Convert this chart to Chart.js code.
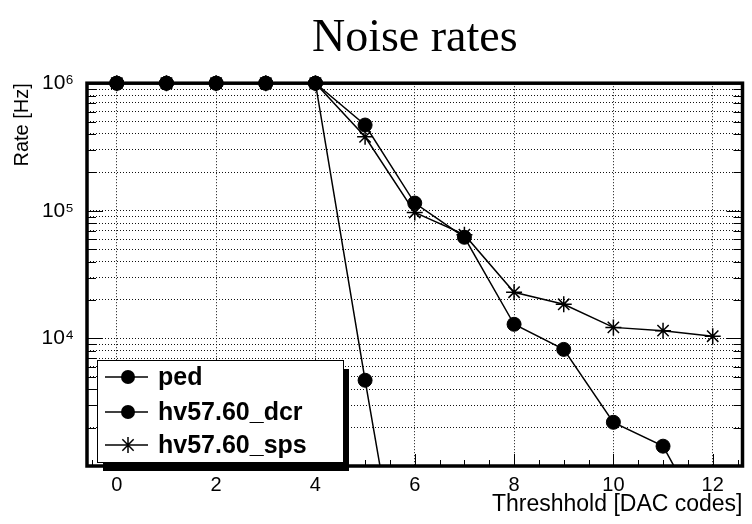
<!DOCTYPE html>
<html><head><meta charset="utf-8">
<script src="https://cdn.jsdelivr.net/npm/chart.js@4"></script>
<style>html,body{margin:0;padding:0;background:#fff;}#wrap{width:752px;height:524px;}</style>
</head><body><div id="wrap"><canvas id="c" width="752" height="524"></canvas></div>
<script>
const thresholds = [0,1,2,3,4,5,6,7,8,9,10,11,12];
const pedRates = [1e6,1e6,1e6,1e6,1e6,4.7e3,27];
const dcrRates = [1e6,1e6,1e6,1e6,1e6,4.7e5,1.15e5,6.2e4,1.29e4,8.2e3,2.2e3,1.43e3,280];
const spsRates = [1e6,1e6,1e6,1e6,1e6,3.8e5,9.7e4,6.5e4,2.3e4,1.85e4,1.22e4,1.15e4,1.04e4];
const seriesNames = ['ped','hv57.60_dcr','hv57.60_sps'];
const xTickValues = [0,2,4,6,8,10,12];
const yDecadeLabels = {4:'10\u2074',5:'10\u2075',6:'10\u2076'};
const yMin = 1e3, yMax = 1e6;
const xMin = -0.6, xMax = 12.6;

function pts(arr){ return arr.map((y,i)=>({x:thresholds[i],y:y})); }

const FONT = "'Liberation Sans', Arial, Helvetica, sans-serif";

function logTicks(){
  const t=[];
  for(let e=3;e<6;e++){ for(let m=1;m<=9;m++){ t.push({value:m*Math.pow(10,e)}); } }
  t.push({value:1e6});
  return t;
}

const framePlugin = {
  id:'frame',
  afterDatasetsDraw(chart){
    const ctx=chart.ctx, a=chart.chartArea, xs=chart.scales.x, ys=chart.scales.y;
    ctx.save();
    ctx.strokeStyle='#000';
    ctx.lineWidth=1;
    ys.ticks.forEach(t=>{
      const y=Math.round(ys.getPixelForValue(t.value))+0.5;
      const major=Math.abs(Math.log10(t.value)-Math.round(Math.log10(t.value)))<1e-9;
      const L=major?16:9;
      ctx.beginPath();
      ctx.moveTo(a.left,y);ctx.lineTo(a.left+L,y);
      ctx.moveTo(a.right,y);ctx.lineTo(a.right-L,y);
      ctx.stroke();
    });
    for(let v=-0.5; v<=12.5; v+=0.5){
      const x=Math.round(xs.getPixelForValue(v))+0.5;
      const major=(Math.abs(v%2)<1e-9);
      const L=major?12:6;
      ctx.beginPath();ctx.moveTo(x,a.bottom);ctx.lineTo(x,a.bottom-L);ctx.stroke();
    }
    ctx.lineWidth=3.5;
    ctx.strokeRect(a.left,a.top,a.right-a.left,a.bottom-a.top);
    ctx.restore();
  },
  afterDraw(chart){
    const ctx=chart.ctx, a=chart.chartArea;
    const bx=a.left+10, bh=102, by=a.bottom-bh-4, bw=246;
    ctx.save();
    ctx.fillStyle='#000';
    ctx.fillRect(bx+6,by+9,bw,bh);
    ctx.fillStyle='#fff';
    ctx.fillRect(bx,by,bw,bh);
    ctx.strokeStyle='#000';ctx.lineWidth=1;
    ctx.strokeRect(bx+0.5,by+0.5,bw,bh);
    const rows=[by+17,by+52,by+85];
    chart.data.datasets.forEach((ds,i)=>{
      const y=rows[i];
      ctx.strokeStyle='#000';ctx.lineWidth=1.5;
      ctx.beginPath();ctx.moveTo(bx+8,y);ctx.lineTo(bx+51,y);ctx.stroke();
      const cx=bx+31;
      if(ds.pointStyle==='star'){
        const r=8, d=r*Math.SQRT1_2;
        ctx.lineWidth=1.5;
        ctx.beginPath();
        ctx.moveTo(cx,y-r);ctx.lineTo(cx,y+r);
        ctx.moveTo(cx-d,y-d);ctx.lineTo(cx+d,y+d);
        ctx.moveTo(cx-d,y+d);ctx.lineTo(cx+d,y-d);
        ctx.stroke();
      } else {
        ctx.fillStyle='#000';
        ctx.beginPath();ctx.arc(cx,y,7,0,Math.PI*2);ctx.fill();
      }
      ctx.fillStyle='#000';
      ctx.font="bold 25px "+FONT;
      ctx.textBaseline='middle';ctx.textAlign='left';
      ctx.fillText(ds.label,bx+61,y+1);
    });
    ctx.restore();
  }
};

const clipArea={left:12,top:12,right:12,bottom:0};
const common={borderColor:'#000',backgroundColor:'#000',borderWidth:1.5,tension:0,clip:clipArea,pointBorderColor:'#000',pointBackgroundColor:'#000'};

new Chart(document.getElementById('c'),{
  type:'line',
  data:{datasets:[
    Object.assign({label:seriesNames[0],data:pts(pedRates),pointStyle:'circle',pointRadius:7,pointBorderWidth:1},common),
    Object.assign({label:seriesNames[1],data:pts(dcrRates),pointStyle:'circle',pointRadius:7,pointBorderWidth:1},common),
    Object.assign({label:seriesNames[2],data:pts(spsRates),pointStyle:'star',pointRadius:8,pointBorderWidth:1.5},common)
  ]},
  options:{
    responsive:false,animation:false,events:[],devicePixelRatio:1,
    layout:{padding:{left:0,right:5,top:0,bottom:0}},
    plugins:{
      legend:{display:false},tooltip:{enabled:false},
      title:{display:true,fullSize:false,text:'Noise rates',color:'#000',
        font:{family:"'Liberation Serif', 'Times New Roman', serif",size:46,weight:'normal',lineHeight:1.2},
        padding:{top:11,bottom:17}}
    },
    scales:{
      x:{type:'linear',min:xMin,max:xMax,
        afterBuildTicks(s){ s.ticks=xTickValues.map(v=>({value:v})); },
        afterFit(s){ s.height=58; },
        grid:{color:'#111',lineWidth:1,drawTicks:false},
        border:{display:false,dash:[1,2]},
        ticks:{color:'#000',font:{family:FONT,size:20},padding:7,autoSkip:false,maxRotation:0,
          callback:(v)=>String(v)},
        title:{display:true,text:'Threshhold [DAC codes]',align:'end',color:'#000',
          font:{family:FONT,size:23},padding:{top:0,bottom:6}}
      },
      y:{type:'logarithmic',min:yMin,max:yMax,
        afterBuildTicks(s){ s.ticks=logTicks(); },
        afterFit(s){ s.width=87; },
        grid:{color:'#111',lineWidth:1,drawTicks:false},
        border:{display:false,dash:[1,2]},
        ticks:{color:'#000',font:{family:FONT,size:21},padding:13,autoSkip:false,
          callback:(v)=>{ const e=Math.log10(v); const r=Math.round(e); return (Math.abs(e-r)<1e-9 && yDecadeLabels[r])?yDecadeLabels[r]:''; }},
        title:{display:true,text:'Rate [Hz]',align:'end',color:'#000',
          font:{family:FONT,size:20},padding:{top:10,bottom:0}}
      }
    }
  },
  plugins:[framePlugin]
});
</script></body></html>
